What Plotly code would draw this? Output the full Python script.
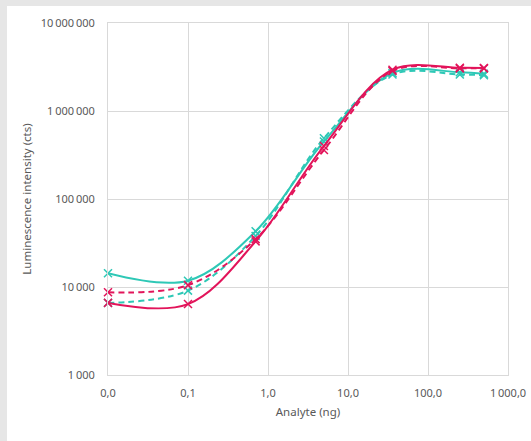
import plotly.graph_objects as go

analyte_ng = [0.01, 0.1, 0.7, 5, 36, 250, 500]
teal_solid = [14300, 11800, 43000, 450000, 2700000, 2750000, 2650000]
teal_dashed = [6600, 9100, 38000, 490000, 2600000, 2600000, 2550000]
crimson_solid = [6600, 6400, 33000, 400000, 2950000, 3100000, 3080000]
crimson_dashed = [8700, 10500, 35000, 360000, 2850000, 3050000, 3050000]

x_tickvals = [0.01, 0.1, 1, 10, 100, 1000]
x_ticktext = ["0,0", "0,1", "1,0", "10,0", "100,0", "1\u2009000,0"]
y_tickvals = [1e3, 1e4, 1e5, 1e6, 1e7]
y_ticktext = ["1\u2009000", "10\u2009000", "100\u2009000", "1\u2009000\u2009000", "10\u2009000\u2009000"]

TEAL = "#2EC8B6"
CRIMSON = "#E2145A"

series = [
    ("Teal solid", teal_solid, TEAL, "solid"),
    ("Teal dashed", teal_dashed, TEAL, "6px,4px"),
    ("Crimson dashed", crimson_dashed, CRIMSON, "6px,4px"),
    ("Crimson solid", crimson_solid, CRIMSON, "solid"),
]

fig = go.Figure()
for name, ys, color, dash in series:
    fig.add_trace(go.Scatter(
        x=analyte_ng, y=ys, name=name, mode="lines+markers",
        line=dict(color=color, width=2, dash=dash, shape="spline", smoothing=1),
        marker=dict(symbol="x-thin", size=8, line=dict(color=color, width=1.5), color=color),
        cliponaxis=False,
    ))

font = dict(family="Noto Sans, Open Sans, sans-serif", size=11, color="#595959")
fig.update_layout(
    width=531, height=441,
    margin=dict(l=108, r=23, t=23, b=66, autoexpand=False),
    paper_bgcolor="#E6E6E6", plot_bgcolor="white",
    showlegend=False, font=font,
    shapes=[dict(type="rect", xref="paper", yref="paper", x0=-0.2525, x1=1.2,
                 y0=-0.3, y1=1.048, fillcolor="white", line=dict(width=0), layer="below")],
)
fig.update_xaxes(
    type="log", range=[-2, 3], tickvals=x_tickvals, ticktext=x_ticktext,
    showgrid=True, gridcolor="#D9D9D9", gridwidth=1,
    showline=True, linecolor="#D9D9D9", mirror=True, zeroline=False,
    ticks="", ticklabelstandoff=8, automargin=False,
    title=dict(text="Analyte (ng)", font=dict(size=11.5, color="#595959"), standoff=8),
)
fig.update_yaxes(
    type="log", range=[3, 7], tickvals=y_tickvals, ticktext=y_ticktext,
    showgrid=True, gridcolor="#D9D9D9", gridwidth=1,
    showline=True, linecolor="#D9D9D9", mirror=True, zeroline=False,
    ticks="", ticklabelstandoff=10, automargin=False,
    title=dict(text="Luminescence intensity (cts)", font=dict(size=11.5, color="#595959"), standoff=6),
)
fig.write_html("out.html", config={"displayModeBar": False},
               post_script="document.body.style.margin='0';document.body.style.overflow='hidden';")
